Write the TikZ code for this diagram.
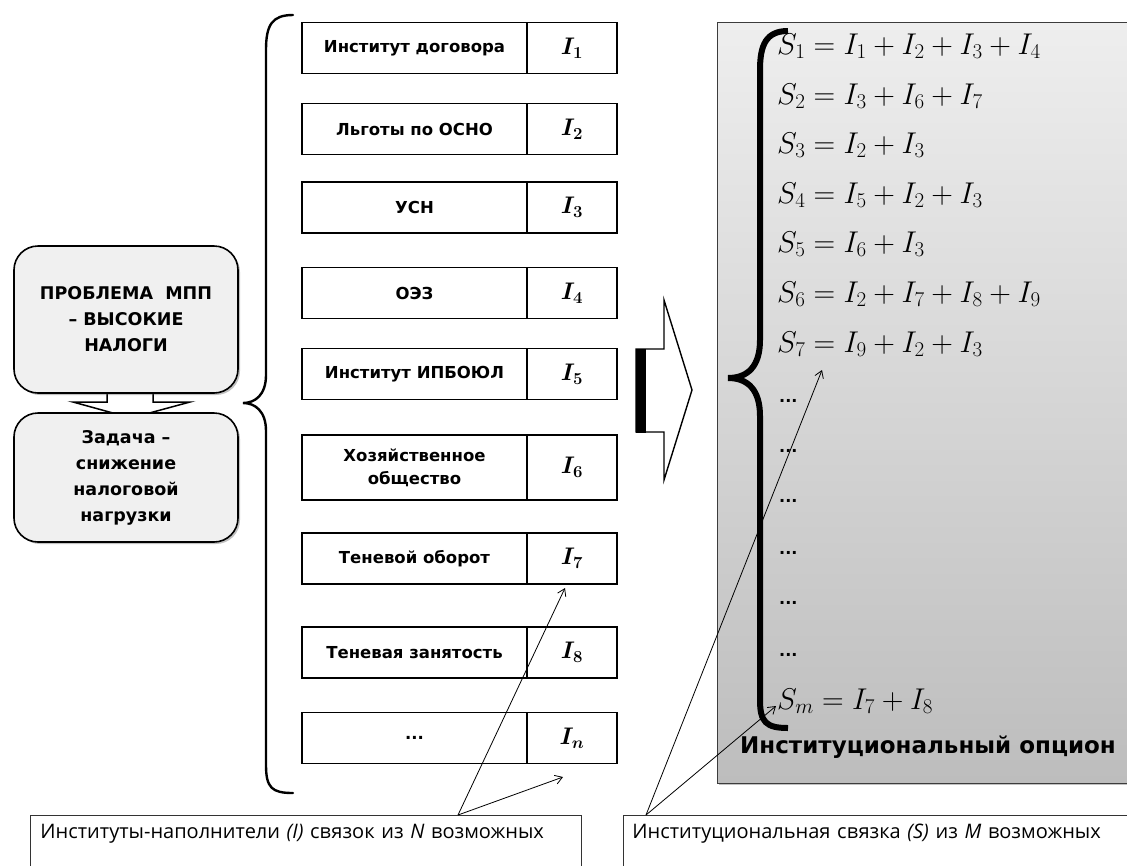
\documentclass[tikz,border=0pt]{standalone}
\usepackage{fix-cm}
\usepackage{amsmath}
\usepackage{bm}
\usepackage{xcolor}
\usepackage{fontspec}
\newfontfamily\lblfont{DejaVu Sans}
\newfontfamily\notefont{Open Sans}
\usetikzlibrary{positioning,arrows.meta,shadows}

\definecolor{boxgray}{HTML}{F0F0F0}
\definecolor{paneltop}{HTML}{EEEEEE}
\definecolor{panelbot}{HTML}{BDBDBD}
\definecolor{panelline}{HTML}{3C3C3C}

\tikzset{
  softshadow/.style={drop shadow={shadow xshift=2pt,shadow yshift=-2pt,opacity=.35,fill=black!70}},
  probbox/.style={draw, line width=1.6pt, rounded corners=24pt, fill=boxgray, minimum width=224pt,
    align=center, font=\lblfont\bfseries\fontsize{17.5}{26}\selectfont, softshadow},
  instbox/.style={draw, line width=1.6pt, fill=white, outer sep=0pt, minimum width=225pt,
    minimum height=51pt, align=center, font=\lblfont\bfseries\fontsize{16.5}{23}\selectfont},
  indbox/.style={draw, line width=1.6pt, fill=white, outer sep=0pt, minimum width=90pt,
    minimum height=51pt, font=\fontsize{24}{26}\selectfont},
  panel/.style={draw=panelline, line width=0.8pt, top color=paneltop, bottom color=panelbot,
    minimum width=423pt, minimum height=761pt, softshadow},
  eqn/.style={anchor=base west, inner sep=0pt, font=\fontsize{30}{32}\selectfont},
  gap/.style={anchor=base west, inner sep=0pt, font=\lblfont\bfseries\fontsize{16}{18}\selectfont},
  note/.style={draw=black!80, line width=0.9pt, fill=white, anchor=north west, align=left,
    inner xsep=10pt, inner ysep=9pt, text depth=40pt, font=\notefont\fontsize{20}{22}\selectfont},
  pointer/.style={line width=0.8pt, -{Straight Barb[length=7pt,width=9pt]}},
  bigbrace/.style={line width=2.4pt, line cap=round},
}

\begin{document}
\begin{tikzpicture}[x=1pt,y=-1pt]
\useasboundingbox (0,0) rectangle (1127,865);

% panel with the bundles
\node[panel] (option) at (928.5,402.5) {};

% down arrow between the two rounded boxes
\draw[line width=1.5pt, fill=white] (107,385) -- (107,402) -- (73,402) -- (131,418)
  -- (190,402) -- (153,402) -- (153,385);

\node[probbox, minimum height=147pt] (problem) at (126,319.5) {ПРОБЛЕМА \ МПП\\– ВЫСОКИЕ\\НАЛОГИ};
\node[probbox, minimum height=129pt] (task) at (126,477.5) {Задача –\\снижение\\налоговой\\нагрузки};

% brace towards the institutes
\draw[bigbrace] (293,15) .. controls (272,15) and (266,25) .. (266,50) -- (266,375)
  .. controls (266,395) and (255,403) .. (243,403)
  .. controls (255,403) and (266,411) .. (266,431) -- (266,765)
  .. controls (266,788) and (272,793) .. (293,793);

% institutes
\node[instbox] (inst1) at (414.5,48) {Институт договора};
\node[indbox, right=0pt of inst1] (ind1) {$\bm{I_1}$};
\node[instbox] (inst2) at (414.5,129) {Льготы по ОСНО};
\node[indbox, right=0pt of inst2] (ind2) {$\bm{I_2}$};
\node[instbox] (inst3) at (414.5,207.5) {УСН};
\node[indbox, right=0pt of inst3] (ind3) {$\bm{I_3}$};
\node[instbox] (inst4) at (414.5,293) {ОЭЗ};
\node[indbox, right=0pt of inst4] (ind4) {$\bm{I_4}$};
\node[instbox] (inst5) at (414.5,374) {Институт ИПБОЮЛ};
\node[indbox, right=0pt of inst5] (ind5) {$\bm{I_5}$};
\node[instbox, minimum height=65pt] (inst6) at (414.5,467.5) {Хозяйственное\\общество};
\node[indbox, minimum height=65pt, right=0pt of inst6] (ind6) {$\bm{I_6}$};
\node[instbox] (inst7) at (414.5,558.5) {Теневой оборот};
\node[indbox, right=0pt of inst7] (ind7) {$\bm{I_7}$};
\node[instbox] (inst8) at (414.5,652.5) {Теневая занятость};
\node[indbox, right=0pt of inst8] (ind8) {$\bm{I_8}$};
\node[instbox] (inst9) at (414.5,738) {...};
\node[indbox, right=0pt of inst9] (ind9) {$\bm{I_n}$};

% block arrow to the panel
\draw[line width=1.4pt, fill=white] (636,349) -- (664,349) -- (664,300) -- (692,390)
  -- (664,480) -- (664,432) -- (636,432) -- cycle;
\fill (636,349) rectangle (646,433);

% brace of the bundles
\draw[bigbrace, line width=6pt, line cap=butt] (788,31) .. controls (766,31) and (760,45) .. (760,70) -- (760,340)
  .. controls (760,366) and (748,378) .. (728,378)
  .. controls (748,378) and (760,390) .. (760,416) -- (760,700)
  .. controls (760,722) and (766,728) .. (788,728);

\node[eqn] (s1) at (777,54) {$S_1 = I_1 + I_2 + I_3 + I_4$};
\node[eqn] (s2) at (777,104) {$S_2 = I_3 + I_6 + I_7$};
\node[eqn] (s3) at (777,153) {$S_3 = I_2 + I_3$};
\node[eqn] (s4) at (777,203) {$S_4 = I_5 + I_2 + I_3$};
\node[eqn] (s5) at (777,252) {$S_5 = I_6 + I_3$};
\node[eqn] (s6) at (777,302) {$S_6 = I_2 + I_7 + I_8 + I_9$};
\node[eqn] (s7) at (777,352) {$S_7 = I_9 + I_2 + I_3$};
\node[gap] (g1) at (779,402) {...};
\node[gap] (g2) at (779,452) {...};
\node[gap] (g3) at (779,502) {...};
\node[gap] (g4) at (779,554) {...};
\node[gap] (g5) at (779,604) {...};
\node[gap] (g6) at (779,656) {...};
\node[eqn] (sm) at (777,709) {$S_m = I_7 + I_8$};

\node[font=\lblfont\bfseries\fontsize{23}{26}\selectfont] (title) at (928,747) {Институциональный опцион};

% notes
\node[note, text width=531pt] (noteI) at (30,815) {Институты-наполнители \textit{(I)} связок из \textit{N} возможных};
\node[note, text width=500pt, inner xsep=9pt] (noteS) at (623,815) {Институциональная связка \textit{(S)} из \textit{M} возможных};

\coordinate (srcI) at ([xshift=428pt]noteI.north west);
\coordinate (srcS) at ([xshift=23pt]noteS.north west);
\coordinate (tipSeven) at (565,588);
\coordinate (tipN) at (563,777);
\coordinate (tipSeq) at (822,370);
\coordinate (tipSm) at (776,706);

\draw[pointer] (srcI) -- (tipSeven);
\draw[pointer] (srcI) -- (tipN);
\draw[pointer] (srcS) -- (tipSeq);
\draw[pointer] (srcS) -- (tipSm);
\end{tikzpicture}
\end{document}
